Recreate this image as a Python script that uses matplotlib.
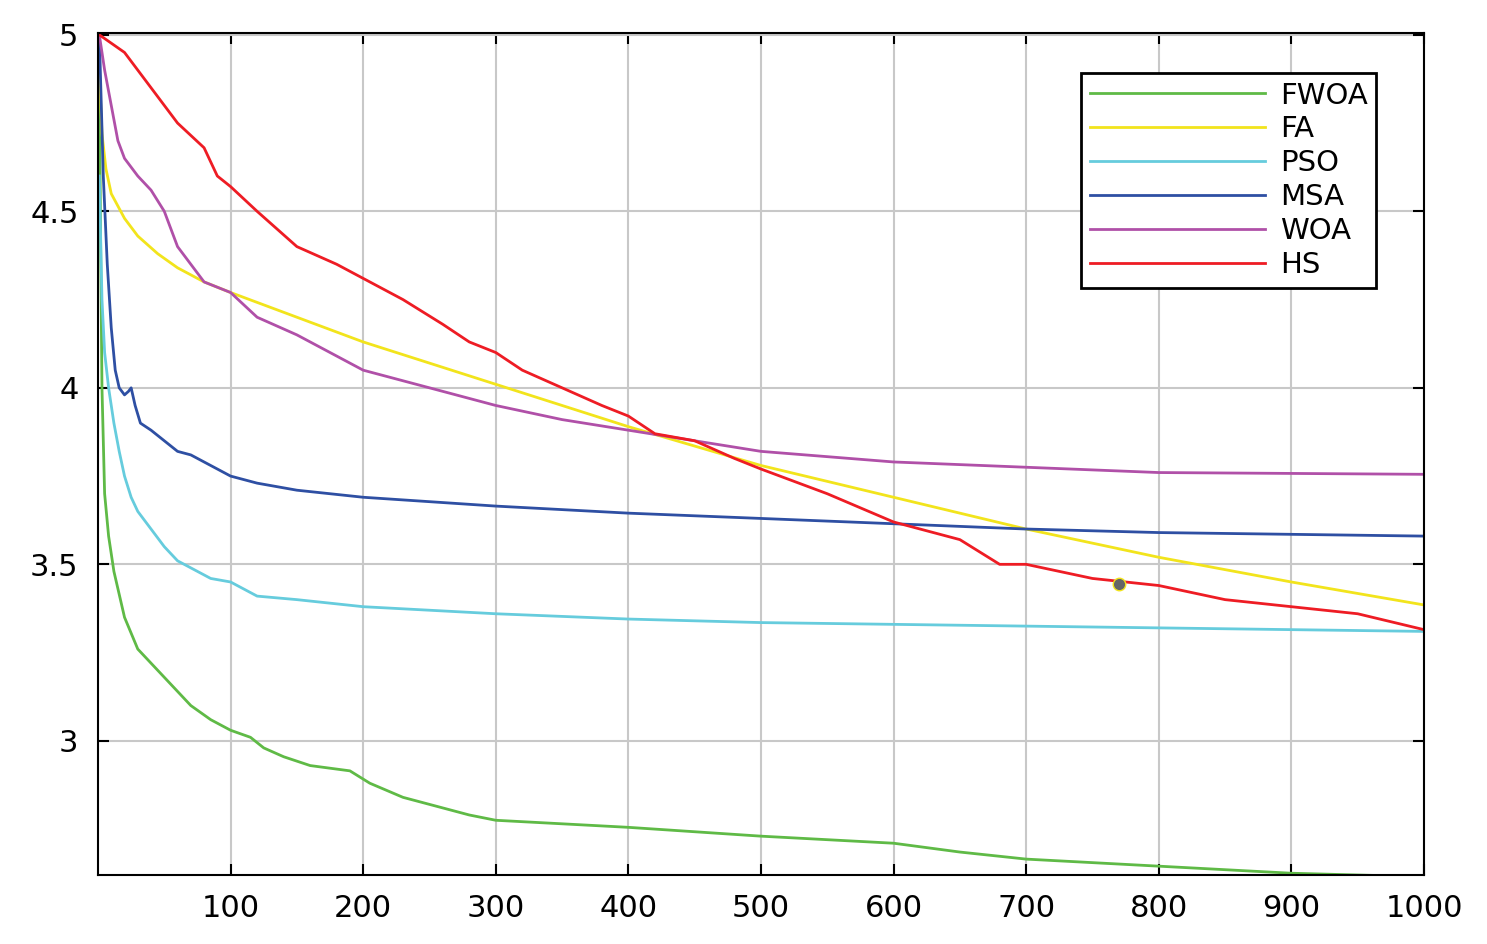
import matplotlib
matplotlib.use("Agg")
import matplotlib.pyplot as plt

fwoa_x = [1, 2, 3, 5, 8, 12, 20, 30, 40, 50, 60, 70, 85, 100, 115, 125, 140, 160, 190, 205, 230, 260, 280, 300, 400, 500, 550, 600, 650, 700, 800, 900, 1000]
fwoa_y = [4.9, 4.4, 4.0, 3.7, 3.58, 3.48, 3.35, 3.26, 3.22, 3.18, 3.14, 3.1, 3.06, 3.03, 3.01, 2.98, 2.955, 2.93, 2.915, 2.88, 2.84, 2.81, 2.79, 2.775, 2.755, 2.73, 2.72, 2.71, 2.685, 2.665, 2.645, 2.625, 2.615]
fa_x = [1, 3, 6, 10, 20, 30, 45, 60, 80, 100, 150, 200, 300, 400, 500, 600, 700, 800, 900, 1000]
fa_y = [4.9, 4.72, 4.62, 4.55, 4.48, 4.43, 4.38, 4.34, 4.3, 4.27, 4.2, 4.13, 4.01, 3.89, 3.78, 3.69, 3.6, 3.52, 3.45, 3.385]
pso_x = [1, 3, 5, 8, 12, 16, 20, 25, 30, 40, 50, 60, 70, 85, 100, 120, 150, 200, 300, 400, 500, 700, 800, 1000]
pso_y = [4.6, 4.25, 4.1, 4.0, 3.9, 3.82, 3.75, 3.69, 3.65, 3.6, 3.55, 3.51, 3.49, 3.46, 3.45, 3.41, 3.4, 3.38, 3.36, 3.345, 3.335, 3.325, 3.32, 3.31]
msa_x = [1, 4, 7, 10, 13, 16, 20, 23, 25, 28, 32, 40, 50, 60, 70, 85, 100, 120, 150, 200, 300, 400, 500, 600, 700, 800, 1000]
msa_y = [5.0, 4.6, 4.35, 4.17, 4.05, 4.0, 3.98, 3.99, 4.0, 3.95, 3.9, 3.88, 3.85, 3.82, 3.81, 3.78, 3.75, 3.73, 3.71, 3.69, 3.665, 3.645, 3.63, 3.615, 3.6, 3.59, 3.58]
woa_x = [1, 5, 10, 15, 20, 30, 40, 50, 55, 60, 70, 80, 100, 120, 150, 200, 250, 300, 350, 400, 450, 500, 600, 700, 800, 1000]
woa_y = [5.0, 4.9, 4.8, 4.7, 4.65, 4.6, 4.56, 4.5, 4.45, 4.4, 4.35, 4.3, 4.27, 4.2, 4.15, 4.05, 4.0, 3.95, 3.91, 3.88, 3.85, 3.82, 3.79, 3.775, 3.76, 3.755]
hs_x = [1, 20, 40, 60, 80, 90, 100, 120, 150, 180, 200, 230, 260, 280, 300, 320, 350, 380, 400, 420, 450, 480, 500,
        550, 600, 650, 680, 700, 750, 800, 850, 900, 950, 1000]
hs_y = [5.0, 4.95, 4.85, 4.75, 4.68, 4.6, 4.57, 4.5, 4.4, 4.35, 4.31, 4.25, 4.18, 4.13, 4.1, 4.05, 4.0, 3.95, 3.92, 3.87,
        3.85, 3.8, 3.77, 3.7, 3.62, 3.57, 3.5, 3.5, 3.46, 3.44, 3.4, 3.38, 3.36, 3.315]

fig = plt.figure(figsize=(14.87, 9.44), dpi=100)
ax = fig.add_axes([0.0659, 0.0731, 0.8917, 0.8919])
ax.plot(fwoa_x, fwoa_y, color='#5fba46', lw=2, label='FWOA')
ax.plot(fa_x, fa_y, color='#f2e41c', lw=2, label='FA')
ax.plot(pso_x, pso_y, color='#66ccdd', lw=2, label='PSO')
ax.plot(msa_x, msa_y, color='#2e4fa3', lw=2, label='MSA')
ax.plot(woa_x, woa_y, color='#b050a8', lw=2, label='WOA')
ax.plot(hs_x, hs_y, color='#ee1c24', lw=2, label='HS')
ax.plot([770], [3.445], 'o', color='#666666', markeredgecolor='#f2e41c', ms=9)

ax.set_xlim(0, 1000)
ax.set_ylim(2.62, 5.005)
ax.set_xticks(range(100, 1001, 100))
ax.set_yticks([3, 3.5, 4, 4.5, 5])
ax.set_yticklabels(['3', '3.5', '4', '4.5', '5'])
ax.grid(True, color='#c8c8c8', lw=1.5)
ax.tick_params(labelsize=22, direction='in', top=True, right=True, length=8, width=1.5, pad=14)
for s in ax.spines.values():
    s.set_linewidth(1.5)
leg = ax.legend(loc='upper right', bbox_to_anchor=(0.975, 0.97), fontsize=21, fancybox=False, edgecolor='black',
                handlelength=6, labelspacing=0.2, borderpad=0.3, handletextpad=0.5, framealpha=1)
leg.get_frame().set_linewidth(2)
fig.savefig('out.png')
